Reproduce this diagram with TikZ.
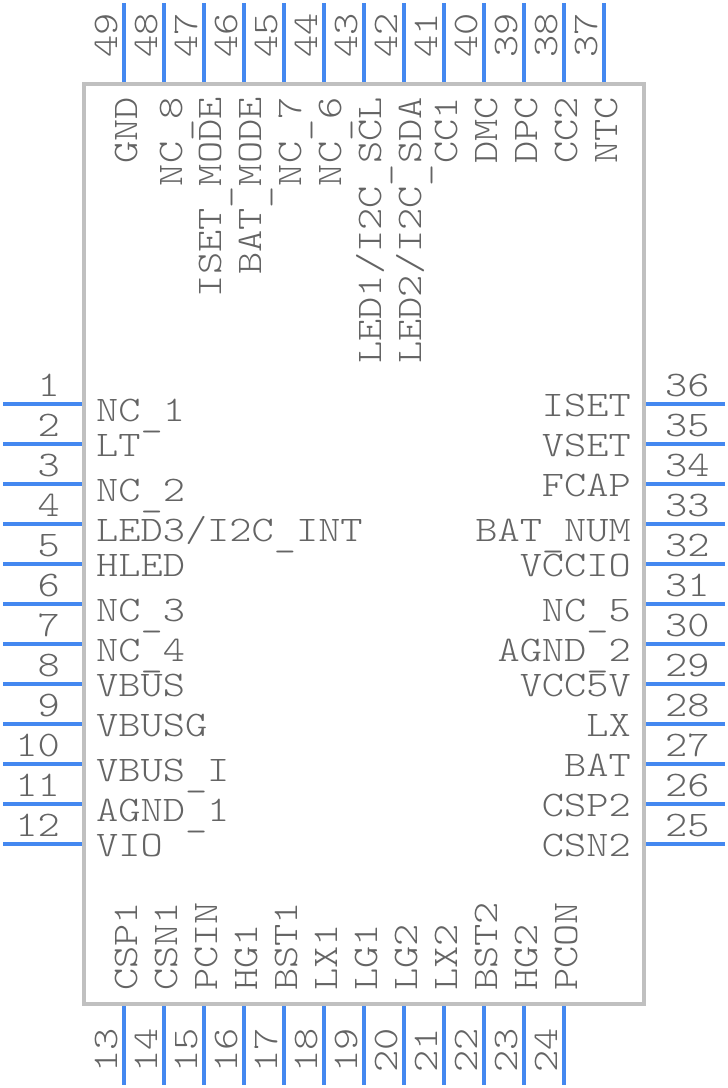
\documentclass[tikz,border=0pt]{standalone}
\usepackage{fontspec}
\newfontfamily\pinfont[FakeStretch=1.175]{Latin Modern Mono Light}
\usepackage{tikz}
\definecolor{pinblue}{RGB}{68,136,240}
\definecolor{chipgray}{RGB}{192,192,192}
\definecolor{textgray}{RGB}{100,100,100}
\newcommand{\pinus}{\raisebox{-5pt}{\_}}

\begin{document}
\begin{tikzpicture}[
    x=1pt, y=-1pt,
    chipbody/.style={rectangle, draw=chipgray, line width=4pt, minimum width=560pt, minimum height=920pt, inner sep=0pt},
    pinline/.style={draw=pinblue, line width=4pt},
    pintext/.style={inner sep=0pt, text=textgray, font=\pinfont\fontsize{36}{36}\selectfont}
]
    \useasboundingbox (0,0) rectangle (728,1088);
    \node[chipbody] (chip) at (364,544) {};

    % left side
    \foreach \num/\lab/\base [evaluate=\num as \py using 364+40*\num] in {1/NC\pinus 1/421.5, 2/LT/456.5, 3/NC\pinus 2/501.5, 4/LED3\slash I2C\pinus INT/541.5, 5/HLED/576, 6/NC\pinus 3/621.5, 7/NC\pinus 4/661.5, 8/VBUS/696, 9/VBUSG/736, 10/VBUS\pinus I/781.5, 11/AGND\pinus 1/821.5, 12/VIO/856} {
        \coordinate (padL\num) at (82,\py);
        \coordinate (endL\num) at (3,\py);
        \draw[pinline] (padL\num) -- (endL\num);
        \node[pintext, anchor=base east] (numL\num) at (60,\py-8) {\num};
        \node[pintext, anchor=base west] (labL\num) at (96,\base) {\lab};
    }

    % right side
    \foreach \num/\lab/\base [evaluate=\num as \py using 404+40*(36-\num)] in {36/ISET/416, 35/VSET/456, 34/FCAP/496, 33/BAT\pinus NUM/541.5, 32/VCCIO/576, 31/NC\pinus 5/621.5, 30/AGND\pinus 2/661.5, 29/VCC5V/696, 28/LX/736, 27/BAT/776, 26/CSP2/816, 25/CSN2/856} {
        \coordinate (padR\num) at (646,\py);
        \coordinate (endR\num) at (725,\py);
        \draw[pinline] (padR\num) -- (endR\num);
        \node[pintext, anchor=base west] (numR\num) at (665,\py-8) {\num};
        \node[pintext, anchor=base east] (labR\num) at (631,\base) {\lab};
    }

    % top side
    \foreach \num/\lab/\off [evaluate=\num as \px using 124+40*(49-\num)] in {49/GND/12, 48/NC\pinus 8/17, 47/ISET\pinus MODE/16, 46/BAT\pinus MODE/16, 45/NC\pinus 7/16, 44/NC\pinus 6/16, 43/LED1\slash I2C\pinus SCL/16, 42/LED2\slash I2C\pinus SDA/16, 41/CC1/12, 40/DMC/12, 39/DPC/12, 38/CC2/12, 37/NTC/12} {
        \coordinate (padT\num) at (\px,82);
        \coordinate (endT\num) at (\px,3);
        \draw[pinline] (padT\num) -- (endT\num);
        \node[pintext, rotate=90, anchor=base west] (numT\num) at (\px-7,58) {\num};
        \node[pintext, rotate=90, anchor=base east] (labT\num) at (\px+\off+1,97) {\lab};
    }

    % bottom side
    \foreach \num/\lab [evaluate=\num as \px using 124+40*(\num-13)] in {13/CSP1, 14/CSN1, 15/PCIN, 16/HG1, 17/BST1, 18/LX1, 19/LG1, 20/LG2, 21/LX2, 22/BST2, 23/HG2, 24/PCON} {
        \coordinate (padB\num) at (\px,1006);
        \coordinate (endB\num) at (\px,1085);
        \draw[pinline] (padB\num) -- (endB\num);
        \node[pintext, rotate=90, anchor=base west] (numB\num) at (\px-7,1073) {\num};
        \node[pintext, rotate=90, anchor=base west] (labB\num) at (\px+13.5,991) {\lab};
    }
\end{tikzpicture}
\end{document}
